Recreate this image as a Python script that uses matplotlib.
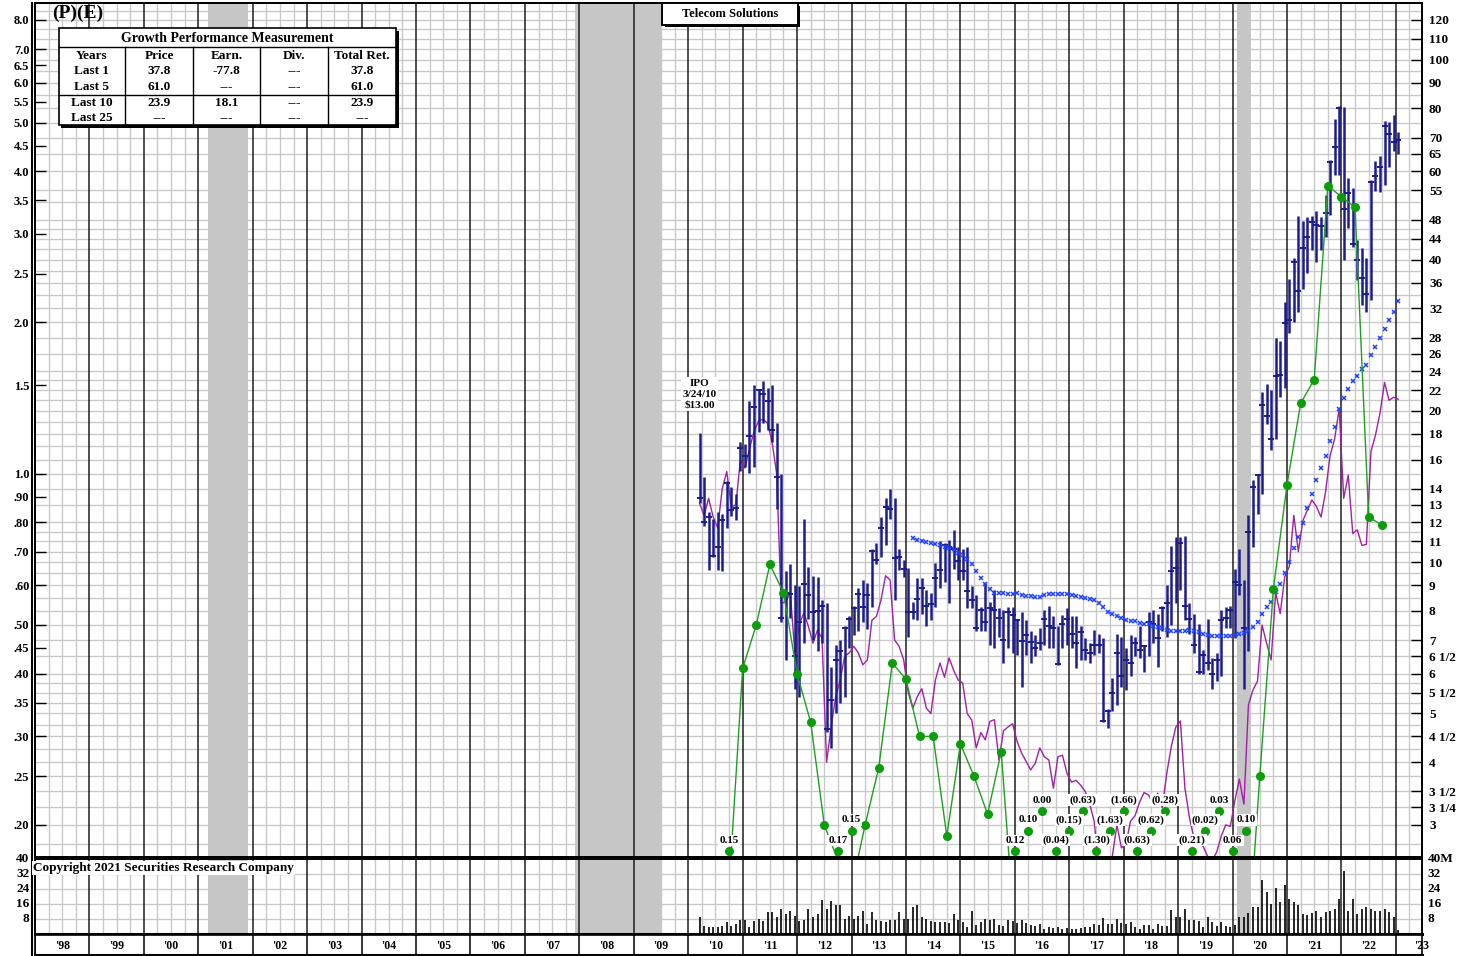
import numpy as np
import pandas as pd
import matplotlib
matplotlib.use("Agg")
import matplotlib.pyplot as plt
from matplotlib.patches import Rectangle
from matplotlib.lines import Line2D
from matplotlib.ticker import NullLocator, NullFormatter
from matplotlib.transforms import blended_transform_factory

plt.rcParams['font.family'] = ['Liberation Serif', 'DejaVu Serif']
plt.rcParams['font.weight'] = 'bold'

# ---------------- data ----------------
months = pd.period_range('2010-03', '2023-01', freq='M')

price_high = [18.1, 14.8, 12.6, 12.2, 12.6, 12.5, 14.5, 14.1, 13.7, 17.35,
              17.2, 20.9, 22.5, 22.1, 22.9, 22.2, 22.5, 18.9, 15.0, 9.6, 9.9, 9.0,
              8.95, 12.2, 9.8, 9.4, 9.35, 8.41, 8.3, 6.2, 6.85, 7.0, 7.45, 7.8,
              8.2, 8.9, 9.2, 9.1, 10.6, 10.9, 12.3, 13.4, 14.0, 13.4, 10.6, 10.1,
              9.75, 8.35, 9.3, 9.3, 8.8, 8.7, 9.95, 11.0, 10.9, 11.07, 11.6, 10.7,
              10.6, 10.7, 8.95, 8.6, 8.15, 9.1, 8.35, 8.8, 8.1, 8.03, 8.15, 8.15,
              7.7, 7.95, 7.67, 7.3, 7.15, 7.4, 8.03, 8.2, 7.8, 7.45, 7.85, 8.1,
              7.8, 7.8, 7.45, 7.05, 6.9, 7.33, 7.2, 7.05, 5.1, 5.88, 7.2, 7.1,
              6.75, 7.15, 7.1, 7.45, 6.85, 7.95, 8.03, 7.9, 8.2, 9.0, 10.75, 11.2,
              11.2, 11.3, 8.3, 7.9, 7.55, 6.7, 7.7, 6.45, 6.6, 8.03, 8.15, 8.2,
              9.7, 10.6, 9.22, 12.4, 14.6, 15.0, 21.8, 22.6, 22.0, 27.9, 27.5, 33.0,
              36.6, 40.3, 48.9, 47.8, 48.7, 48.9, 50.0, 48.7, 53.8, 63.2, 76.2, 81.0,
              80.6, 58.1, 55.6, 43.8, 42.2, 40.3, 57.6, 63.0, 64.4, 75.6, 75.2, 77.8,
              71.9]
price_low = [13.1, 11.8, 9.65, 10.25, 9.65, 9.6, 11.7, 12.35, 12.15, 15.2,
             15.5, 15.05, 15.45, 18.2, 18.9, 18.3, 17.35, 12.75, 7.6, 6.39, 7.75, 5.6,
             5.4, 6.9, 7.7, 7.0, 6.65, 6.9, 4.6, 4.27, 5.0, 5.25, 5.4, 6.75,
             7.15, 7.3, 7.6, 7.35, 8.15, 9.9, 10.25, 10.8, 12.2, 8.41, 9.65, 9.35,
             7.1, 7.7, 7.67, 7.9, 7.45, 7.67, 8.15, 8.9, 9.15, 8.3, 9.7, 9.22,
             9.22, 8.1, 8.1, 7.3, 7.3, 7.3, 6.85, 6.75, 7.1, 6.3, 6.75, 6.6,
             6.55, 5.65, 6.55, 6.3, 6.5, 6.69, 6.85, 6.75, 6.75, 6.25, 6.75, 6.85,
             6.75, 6.15, 6.39, 6.39, 6.3, 6.55, 6.6, 4.8, 4.68, 5.05, 5.2, 5.65,
             5.57, 5.95, 6.5, 6.45, 6.05, 6.5, 6.9, 6.2, 7.3, 7.1, 7.5, 8.3,
             8.8, 7.67, 7.2, 6.6, 6.0, 6.0, 6.1, 5.6, 5.8, 5.95, 7.4, 7.4,
             7.05, 8.6, 5.6, 6.65, 10.7, 12.5, 13.7, 18.8, 16.7, 17.6, 21.3, 22.2,
             28.6, 30.1, 31.5, 34.9, 37.6, 41.8, 39.6, 41.8, 44.4, 49.1, 58.9, 58.9,
             39.9, 46.2, 42.3, 36.4, 32.5, 31.5, 33.2, 54.8, 54.5, 56.2, 61.3, 65.8,
             64.8]
price_close = [13.4, 12.0, 12.3, 10.3, 10.7, 12.15, 14.4, 12.7, 12.8, 16.85,
               16.3, 17.8, 20.35, 22.0, 21.6, 20.9, 18.35, 14.8, 7.75, 8.7, 8.65, 6.5,
               7.6, 9.05, 8.6, 7.95, 8.0, 8.2, 4.65, 5.32, 6.39, 6.67, 7.4, 7.7,
               8.1, 8.65, 8.15, 8.6, 10.55, 10.1, 11.7, 12.85, 12.75, 10.2, 10.25, 9.7,
               7.95, 7.95, 8.45, 8.9, 8.2, 8.25, 9.3, 9.65, 10.8, 10.7, 10.6, 10.05,
               9.6, 8.75, 8.41, 7.4, 8.03, 7.6, 8.1, 8.03, 7.75, 7.0, 7.95, 7.85,
               7.67, 6.97, 7.15, 6.95, 6.75, 6.9, 7.7, 7.45, 7.4, 6.27, 7.55, 7.7,
               7.2, 6.9, 7.25, 6.7, 6.6, 6.85, 6.85, 4.83, 5.06, 5.5, 6.6, 5.95,
               6.4, 6.3, 6.9, 6.7, 6.8, 7.6, 7.55, 7.05, 8.1, 8.3, 9.6, 9.75,
               10.9, 8.2, 7.7, 6.85, 6.05, 6.55, 6.3, 6.0, 6.39, 7.67, 7.75, 8.03,
               9.15, 9.0, 7.4, 11.5, 14.1, 14.9, 20.6, 19.5, 17.6, 23.5, 23.6, 29.9,
               30.3, 39.5, 34.7, 42.2, 44.3, 47.5, 46.9, 46.7, 49.5, 62.7, 67.0, 80.1,
               50.4, 54.3, 42.9, 39.9, 36.8, 34.2, 57.1, 58.6, 61.2, 73.9, 71.3, 68.5,
               69.2]
rel_strength = [13.1, 12.4, 13.4, 12.3, 11.7, 14.0, 15.15, 12.9, 13.0, 16.0,
                15.4, 16.8, 18.2, 19.1, 19.25, 18.9, 17.3, 15.0, 8.28, 8.35, 8.7, 6.6,
                7.55, 7.93, 7.45, 6.9, 7.33, 7.05, 4.0, 4.7, 5.4, 5.83, 6.5, 6.6,
                6.8, 6.6, 6.25, 6.39, 7.67, 7.8, 8.41, 9.4, 9.22, 7.0, 6.8, 6.39,
                5.5, 5.12, 5.4, 5.6, 5.12, 5.0, 5.83, 6.3, 5.9, 6.45, 6.1, 5.83,
                5.75, 5.0, 4.85, 4.27, 4.58, 4.43, 4.82, 4.86, 4.04, 4.62, 4.7, 4.77,
                4.4, 4.17, 4.01, 3.86, 3.98, 4.27, 4.1, 4.04, 3.55, 4.1, 4.13, 3.8,
                3.65, 3.68, 3.6, 3.5, 3.3, 3.05, 2.45, 2.4, 2.45, 2.6, 3.0, 2.7,
                2.75, 3.05, 3.13, 3.33, 3.48, 3.44, 3.3, 3.47, 3.25, 3.8, 4.3, 4.7,
                4.83, 3.55, 3.1, 2.82, 2.77, 2.72, 2.6, 2.55, 2.65, 2.85, 3.0, 2.98,
                3.35, 3.7, 3.3, 5.2, 5.57, 5.8, 7.5, 6.9, 6.39, 8.7, 7.9, 9.35,
                9.8, 12.4, 10.5, 12.1, 12.7, 13.3, 12.9, 12.3, 13.8, 16.3, 17.6, 20.2,
                13.4, 14.9, 11.4, 11.6, 10.8, 10.85, 16.6, 17.9, 19.8, 22.8, 21.0, 21.3,
                21.1]
volume_m = [9.0, 4.2, 3.6, 3.8, 4.0, 4.5, 6.5, 4.5, 5.5, 7.5,
            7.6, 3.5, 7.1, 8.0, 7.1, 11.6, 11.6, 8.9, 13.1, 10.7,
            12.5, 9.8, 7.1, 7.6, 13.5, 8.9, 10.7, 18.4, 13.5, 17.6,
            15.3, 15.3, 8.0, 9.5, 8.0, 9.8, 12.4, 5.3, 11.6, 7.6,
            7.1, 6.5, 7.6, 7.6, 11.6, 8.0, 8.0, 14.4, 15.3, 8.9,
            8.0, 7.1, 6.5, 6.5, 6.5, 5.8, 10.7, 7.5, 6.5, 4.0,
            12.5, 4.7, 6.5, 8.0, 7.6, 8.0, 4.7, 4.4, 7.6, 6.7,
            5.8, 7.6, 5.8, 4.7, 4.4, 5.3, 2.9, 3.5, 3.3, 3.5,
            2.9, 3.3, 2.5, 2.9, 3.3, 4.0, 4.0, 5.3, 4.7, 8.4,
            5.3, 5.3, 8.0, 5.8, 5.3, 6.5, 4.0, 2.9, 4.7, 4.7,
            2.9, 5.3, 4.4, 4.4, 12.9, 8.9, 8.9, 13.1, 7.6, 7.5,
            7.1, 4.0, 8.9, 6.5, 4.4, 6.5, 4.4, 3.5, 4.7, 8.9,
            8.9, 11.3, 14.4, 14.4,
            28.7, 22.5, 16.2, 24.7, 17.1, 26.2, 18.5, 17.1, 15.6, 10.7,
            10.2, 11.0, 12.5, 8.9, 11.6, 12.5, 13.1, 18.9, 33.8, 12.5,
            18.9, 10.7, 13.5, 14.4, 13.5, 12.5, 12.5, 13.5, 12.0, 8.9, 2.2]

ma_months = pd.period_range('2014-02', '2023-01', freq='M')
ma_values = [11.15, 11.07, 11.0, 10.95, 10.9, 10.88, 10.83, 10.7, 10.68, 10.6,
             10.45, 10.35, 10.13, 9.9, 9.6, 9.3, 9.05, 8.84, 8.7, 8.68,
             8.68, 8.65, 8.66, 8.68, 8.62, 8.58, 8.55, 8.53, 8.52, 8.6,
             8.63, 8.65, 8.65, 8.65, 8.65, 8.6, 8.58, 8.53, 8.5, 8.45,
             8.41, 8.28, 8.13, 7.96, 7.87, 7.8, 7.74, 7.69, 7.64, 7.63,
             7.57, 7.55, 7.52, 7.47, 7.44, 7.4, 7.33, 7.3, 7.29, 7.3,
             7.31, 7.33,
             7.28, 7.25, 7.2, 7.17, 7.14, 7.14, 7.14, 7.14, 7.14, 7.17,
             7.2, 7.22, 7.3, 7.42, 7.6, 7.87, 8.13, 8.35, 8.71, 9.03,
             9.5, 10.0, 10.68, 11.25, 11.97, 12.8, 13.7, 14.55, 15.4, 16.3,
             17.4, 18.6, 20.15, 21.2,
             22.1, 22.9, 23.5, 24.2, 24.7, 25.8, 26.8, 28.0, 29.1, 30.4, 31.5, 33.1]

eps_quarters = pd.period_range('2010Q3', '2022Q3', freq='Q')
eps_values = [0.15, 0.41, 0.50, 0.66, 0.58, 0.40, 0.32, 0.20, 0.17, 0.15,
              0.20, 0.26, 0.42, 0.39, 0.30, 0.30, 0.19, 0.29, 0.25, 0.21,
              0.28, 0.12, 0.10, 0.00, -0.04, -0.15, -0.63, -1.30, -1.63, -1.66,
              -0.63, -0.62, -0.28, np.nan, -0.21, -0.02, 0.03, 0.06, 0.10, 0.25,
              0.59, 0.95, 1.38, 1.54, 3.74, 3.56, 3.39, 0.82, 0.79]

recessions = [(2001.17, 2001.92), (2007.92, 2009.5), (2020.08, 2020.33)]

table_title = 'Growth Performance Measurement'
table_cols = ['Years', 'Price', 'Earn.', 'Div.', 'Total Ret.']
table_rows = [['Last 1', '37.8', '-77.8', '---', '37.8'],
              ['Last 5', '61.0', '---', '---', '61.0'],
              ['Last 10', '23.9', '18.1', '---', '23.9'],
              ['Last 25', '---', '---', '---', '---']]

right_ticks = [120, 110, 100, 90, 80, 70, 65, 60, 55, 48, 44, 40, 36, 32, 28, 26,
               24, 22, 20, 18, 16, 14, 13, 12, 11, 10, 9, 8, 7, 6.5, 6, 5.5, 5,
               4.5, 4, 3.5, 3.25, 3]
right_labels = ['120', '110', '100', '90', '80', '70', '65', '60', '55', '48', '44',
                '40', '36', '32', '28', '26', '24', '22', '20', '18', '16', '14',
                '13', '12', '11', '10', '9', '8', '7', '6 1/2', '6', '5 1/2', '5',
                '4 1/2', '4', '3 1/2', '3 1/4', '3']
left_ticks = [8.0, 7.0, 6.5, 6.0, 5.5, 5.0, 4.5, 4.0, 3.5, 3.0, 2.5, 2.0, 1.5,
              1.0, 0.90, 0.80, 0.70, 0.60, 0.50, 0.45, 0.40, 0.35, 0.30, 0.25, 0.20]
vol_ticks = [8, 16, 24, 32, 40]
hgrid = [2.75, 3, 3.25, 3.5, 3.75, 4, 4.25, 4.5, 4.75, 5, 5.25, 5.5, 5.75, 6, 6.5,
         7, 7.5, 8, 8.5, 9, 9.5, 10, 10.5, 11, 11.5, 12, 13, 14, 15, 16, 17, 18,
         19, 20, 21, 22, 23, 24, 26, 28, 30, 32, 34, 36, 38, 40, 42, 44, 46, 48,
         52, 55, 60, 65, 70, 75, 80, 85, 90, 95, 100, 105, 110, 115, 120, 125]

PE = 15  # left scale = right scale / 15

# ---------------- figure ----------------
W, H = 1473, 956
fig = plt.figure(figsize=(W / 100, H / 100), dpi=100)


def box(x0, y0, x1, y1):
    return [x0 / W, 1 - y1 / H, (x1 - x0) / W, (y1 - y0) / H]


ax = fig.add_axes(box(35, 3, 1422, 857))
axv = fig.add_axes(box(35, 859, 1422, 934))
axy = fig.add_axes(box(35, 935, 1422, 955))
XL = (1998.0, 2023.48)
PLO, PHI = 2.59, 129.7

mx = np.asarray(months.year + (months.month - 0.5) / 12, dtype=float)
max_ = np.asarray(ma_months.year + (ma_months.month - 0.5) / 12, dtype=float)
qx = np.asarray(eps_quarters.year + eps_quarters.quarter / 4, dtype=float)
eps = np.array(eps_values, dtype=float)

GRID = '#c9c9c9'
BAND = '#c6c6c6'


def time_grid(a):
    for q in np.arange(1998.25, 2023.5, 0.25):
        if abs(q - round(q)) < 1e-6:
            a.axvline(q, color='#1e1e1e', lw=1.1, zorder=2)
        else:
            a.axvline(q, color=GRID, lw=1.0, zorder=1)
    for a0, a1 in recessions:
        a.axvspan(a0, a1, color=BAND, lw=0, zorder=1.5)


# ---- main price panel ----
ax.set_yscale('log')
ax.set_xlim(XL)
ax.set_ylim(PLO, PHI)
for v in hgrid:
    ax.axhline(v, color=GRID, lw=1.0, zorder=1)
time_grid(ax)

ax.vlines(mx, price_low, price_high, color='#1c1c8c', lw=1.8, zorder=4)
ax.plot(mx, price_close, ls='none', marker='_', ms=5, mew=1.4, color='#1c1c8c', zorder=4)
ax.plot(mx, rel_strength, color='#a21fa6', lw=1.0, zorder=3)
ax.plot(max_, ma_values, ls='none', marker='x', ms=3.3, mew=1.1, color='#2040ff', zorder=5)

on = eps * PE >= PLO
ax.plot(qx, np.clip(eps, 0.02, None) * PE, color='#1ea01e', lw=1.0, zorder=6)
ax.plot(qx[on], eps[on] * PE, ls='none', marker='o', ms=5.5, color='#0c9c0c', zorder=7)

# off-scale earnings: dots in staggered rows with labels
trans = blended_transform_factory(ax.transData, ax.transAxes)
row_y = [0.007, 0.031, 0.054]
k = 0
for i, (x, v) in enumerate(zip(qx, eps)):
    if np.isnan(v) or on[i]:
        k = 0
        continue
    r = row_y[k % 3]
    k += 1
    ax.plot([x], [r], marker='o', ms=5.5, color='#0c9c0c', transform=trans,
            zorder=7, clip_on=False)
    lab = f'{v:.2f}' if v >= 0 else f'({abs(v):.2f})'
    ax.text(x, r + 0.0125, lab, transform=trans, ha='center', va='center',
            fontsize=8, zorder=8,
            bbox=dict(boxstyle='square,pad=0.12', fc='white', ec='none'))

ax.text(mx[0], 21.6, 'IPO\n3/24/10\n$13.00', ha='center', va='center', fontsize=8,
        linespacing=1.25, zorder=8,
        bbox=dict(boxstyle='square,pad=0.15', fc='white', ec='none'))

axl = ax.twinx()
axl.set_yscale('log')
axl.set_ylim(PLO / PE, PHI / PE)
axl.yaxis.tick_left()
ax.yaxis.tick_right()

ax.set_yticks(right_ticks)
ax.set_yticklabels(right_labels)
ax.yaxis.set_minor_locator(NullLocator())
ax.yaxis.set_minor_formatter(NullFormatter())
ax.tick_params(axis='y', direction='in', length=8, width=1, labelsize=9.5, pad=5)
ax.tick_params(axis='x', bottom=False, labelbottom=False)

axl.set_yticks(left_ticks)
axl.set_yticklabels([f'{v:.1f}' if v >= 1 else f'{v:.2f}'[1:] for v in left_ticks])
axl.yaxis.set_minor_locator(NullLocator())
axl.yaxis.set_minor_formatter(NullFormatter())
axl.tick_params(axis='y', direction='in', length=8, width=1, labelsize=9, pad=4)

for a in (ax, axl):
    for s in a.spines.values():
        s.set_linewidth(1.4)
        s.set_color('black')

# ---- volume panel ----
axv.set_xlim(XL)
axv.set_ylim(0, 40)
for v in vol_ticks[:-1]:
    axv.axhline(v, color=GRID, lw=1.0, zorder=1)
time_grid(axv)
axv.vlines(mx, 0, volume_m, color='black', lw=1.2, zorder=4)
axv.set_xticks([])
axv.set_yticks([])
vtr_l = blended_transform_factory(axv.transAxes, axv.transData)
for v in vol_ticks:
    axv.text(-0.004, v, str(v), transform=vtr_l, ha='right', va='center', fontsize=9.5)
    axv.text(1.004, v, f'{v}M' if v == 40 else str(v), transform=vtr_l,
             ha='left', va='center', fontsize=9.5)
for s in axv.spines.values():
    s.set_linewidth(1.4)
axv.spines['bottom'].set_linewidth(2.2)

# ---- year strip ----
axy.set_xlim(XL)
axy.set_ylim(0, 1)
axy.set_xticks([])
axy.set_yticks([])
for yr in range(1998, 2024):
    axy.axvline(yr, color='black', lw=1.1)
for yr in range(1998, 2023):
    axy.text(yr + 0.5, 0.45, f"'{yr % 100:02d}", ha='center', va='center', fontsize=8.5)
axy.text(XL[1], 0.45, "'23", ha='center', va='center', fontsize=8.5, clip_on=False)
for s in axy.spines.values():
    s.set_linewidth(1.2)
axy.spines['bottom'].set_linewidth(2.2)


# ---- figure-level decorations ----
def frect(x0, y0, x1, y1, **kw):
    fig.add_artist(Rectangle((x0 / W, 1 - y1 / H), (x1 - x0) / W, (y1 - y0) / H,
                             transform=fig.transFigure, **kw))


def fline(x0, y0, x1, y1, lw=1.0):
    fig.add_artist(Line2D([x0 / W, x1 / W], [1 - y0 / H, 1 - y1 / H],
                          transform=fig.transFigure, color='black', lw=lw, zorder=12))


def ftext(x, y, s, **kw):
    kw.setdefault('ha', 'center')
    kw.setdefault('va', 'center')
    fig.text(x / W, 1 - y / H, s, zorder=13, **kw)


fline(32, 3, 32, 955, lw=1.5)

# growth table
frect(61.5, 31, 399, 128, facecolor='black', edgecolor='none', zorder=10)
frect(58.7, 28, 396, 125, facecolor='white', edgecolor='black', lw=1.2, zorder=11)
fline(58.7, 46.7, 396, 46.7)
fline(58.7, 94.8, 396, 94.8)
col_edges = [58.7, 125.3, 192.7, 260, 328.3, 396]
for xe in col_edges[1:-1]:
    fline(xe, 46.7, xe, 125)
ftext(227, 38, table_title, fontsize=10)
col_cent = [(a + b) / 2 for a, b in zip(col_edges[:-1], col_edges[1:])]
for c, s in zip(col_cent, table_cols):
    ftext(c, 56, s, fontsize=9.5)
for r, row in enumerate(table_rows):
    for c, s in zip(col_cent, row):
        ftext(c, 71.5 + r * 15.6, s, fontsize=9.5)

ftext(52, 13, '(P)(E)', fontsize=14, ha='left')

# title box
frect(664.5, 5.5, 800, 27, facecolor='black', edgecolor='none', zorder=10)
frect(662, 3, 797.5, 24.5, facecolor='white', edgecolor='black', lw=1.4, zorder=11)
ftext(730, 14, 'Telecom Solutions', fontsize=9)

ftext(33, 868, 'Copyright 2021 Securities Research Company', fontsize=9.5, ha='left',
      bbox=dict(boxstyle='square,pad=0.1', fc='white', ec='none'))

fig.savefig('out.png', dpi=100)
